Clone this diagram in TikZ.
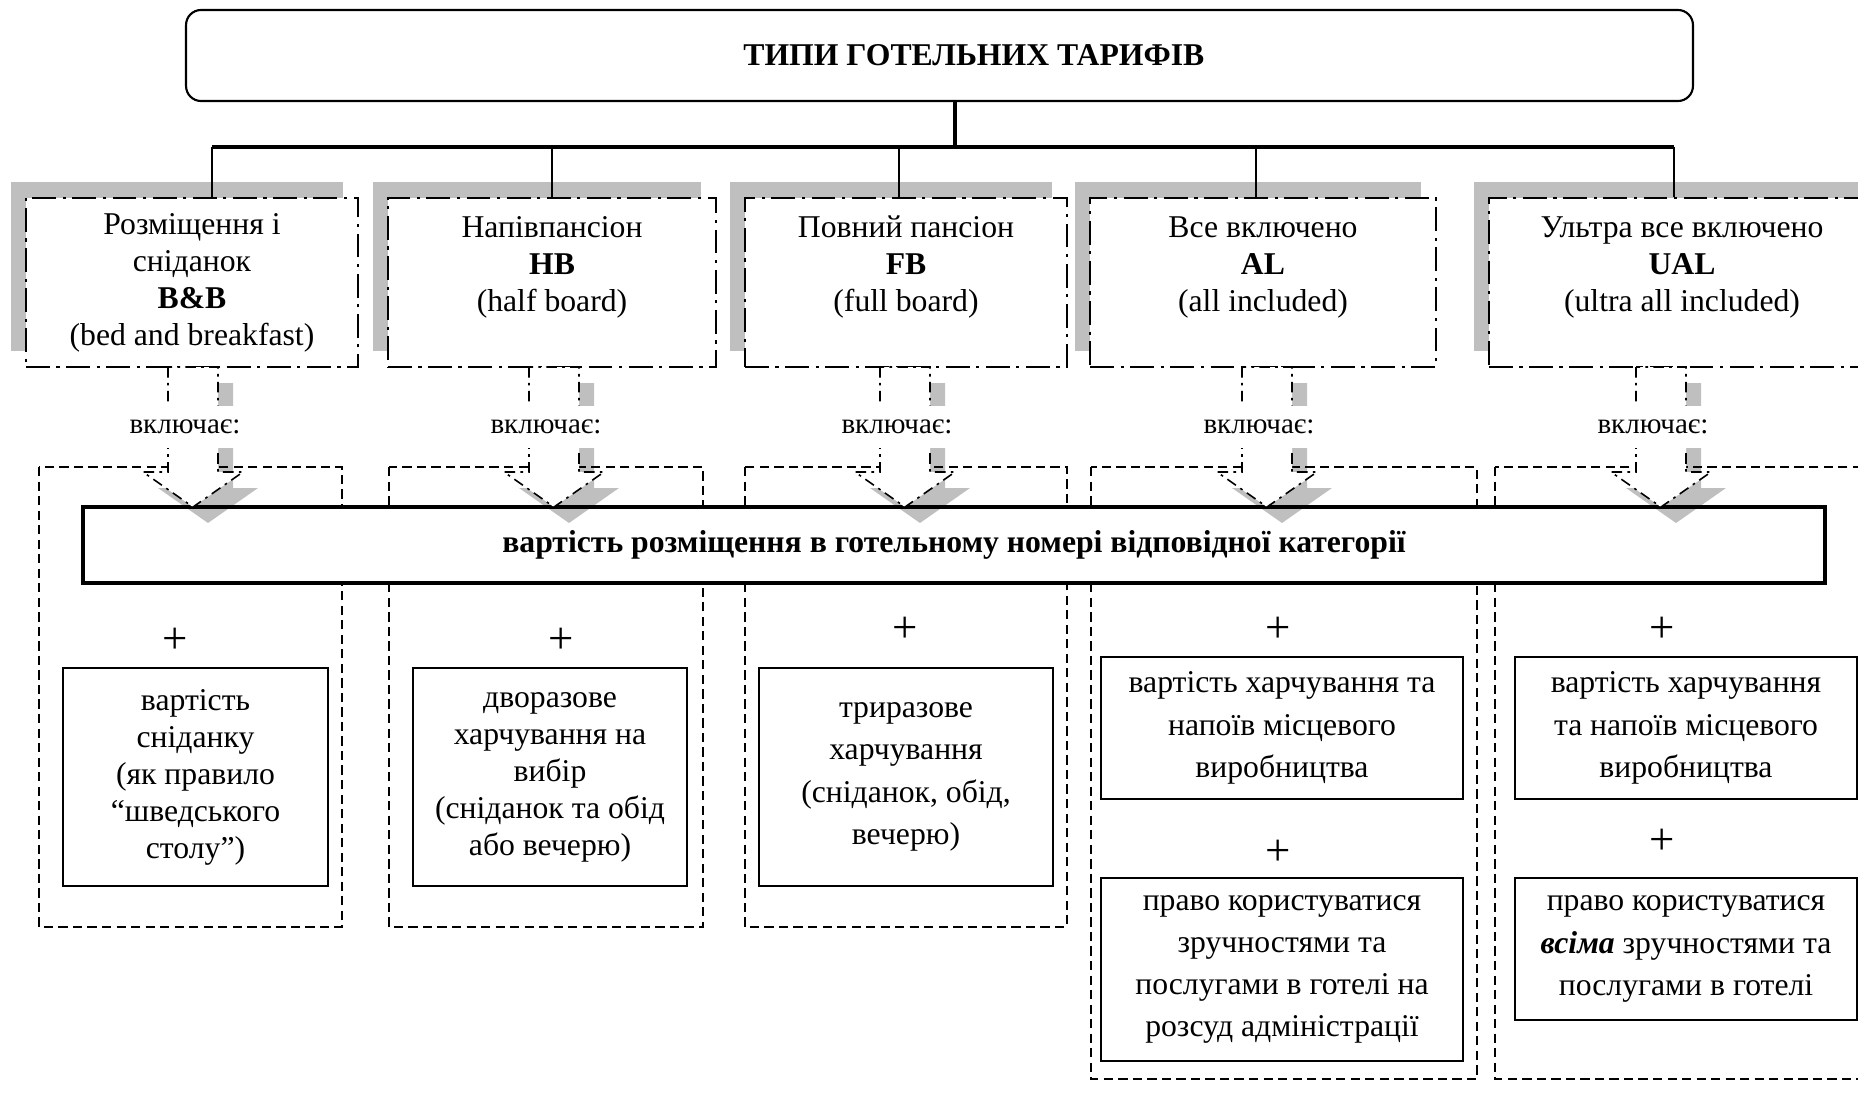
\documentclass[tikz,border=0pt]{standalone}
\usepackage{fontspec}
\setmainfont{Liberation Serif}
\usetikzlibrary{shadows}

\begin{document}
\begin{tikzpicture}[x=0.013307cm, y=-0.013307cm,
    txt/.style={font=\fontsize{12}{14}\selectfont, align=center},
    titlebox/.style={draw, line width=0.8pt, rounded corners=0.2cm, fill=white, minimum width=20.05cm, minimum height=1.211cm, font=\fontsize{12}{14}\selectfont\bfseries},
    typebox/.style={txt, draw, fill=white, line width=0.75pt, dash pattern=on 9pt off 2.5pt on 1.2pt off 2.5pt, minimum height=2.249cm, general shadow={fill=gray!50, shadow xshift=-0.2cm, shadow yshift=0.213cm}},
    groupbox/.style={draw, line width=0.8pt, dash pattern=on 3.5pt off 2pt},
    itembox/.style={txt, draw, line width=0.6pt, fill=white, inner sep=2pt},
    plus/.style={font=\fontsize{17}{19}\selectfont},
    incl/.style={font=\fontsize{11}{13}\selectfont, fill=white, inner sep=1pt, minimum height=16pt},
    arrowline/.style={line width=0.6pt, dash pattern=on 4pt off 2pt on 1pt off 2pt},
]
    \useasboundingbox (0,0) rectangle (1858,1094);
    % Title
    \node[titlebox] (title) at (939.5,55.5) {\hspace*{26pt}ТИПИ ГОТЕЛЬНИХ ТАРИФІВ};
    % Groups (dashed frames)
    \draw[groupbox] (39,467) rectangle (342,927);
    \draw[groupbox] (389,467) rectangle (703,927);
    \draw[groupbox] (745,467) rectangle (1067,927);
    \draw[groupbox] (1091,467) rectangle (1477,1079);
    \draw[groupbox] (1495,467) rectangle (1880,1079);
    % Tariff types
    \node[typebox, minimum width=4.418cm] (c1) at (192,282.5) {Розміщення і\\ сніданок\\ \textbf{B\&B}\\ (bed and breakfast)};
    \node[typebox, minimum width=4.365cm] (c2) at (552,282.5) {Напівпансіон\\ \textbf{HB}\\ (half board)\\ \mbox{}};
    \node[typebox, minimum width=4.285cm] (c3) at (906,282.5) {Повний пансіон\\ \textbf{FB}\\ (full board)\\ \mbox{}};
    \node[typebox, minimum width=4.6cm] (c4) at (1263,282.5) {Все включено\\ \textbf{AL}\\ (all included)\\ \mbox{}};
    \node[typebox, minimum width=5.137cm] (c5) at (1682,282.5) {Ультра все включено\\ \textbf{UAL}\\ (ultra all included)\\ \mbox{}};
    % Tree
    \coordinate (stem) at (955,147);
    \draw[line width=1.5pt] (title.south -| stem) -- (stem);
    \foreach \n/\dx in {1/212, 2/552, 3/899, 4/1256, 5/1674}
        \coordinate (d\n) at (\dx,147);
    \draw[line width=1.5pt] (d1) -- (d5);
    \foreach \n in {1,...,5}
        \draw[line width=0.5pt] (d\n) -- (d\n |- c\n.north);
    % Common part
    \node[draw, line width=1.5pt, fill=white, minimum width=23.18cm, minimum height=1.011cm, font=\fontsize{12}{14}\selectfont\bfseries] (bar) at (954,545) {вартість розміщення в готельному номері відповідної категорії};
    % Block arrows
    \foreach \n/\ax in {1/193, 2/554, 3/905, 4/1267, 5/1661} {
        \fill[black, opacity=0.25, shift={(15,16)}] (\ax-25,367) -- (\ax-25,472) -- (\ax-50,472) -- (\ax,507) -- (\ax+50,472) -- (\ax+25,472) -- (\ax+25,367) -- cycle;
        \filldraw[arrowline, fill=white] (\ax-25,367) -- (\ax-25,472) -- (\ax-50,472) -- (\ax,507) -- (\ax+50,472) -- (\ax+25,472) -- (\ax+25,367) -- cycle;
        \node[incl] (l\n) at (\ax-8,427) {включає:};
    }
    % Items
    \node[plus] (p1) at (175,641) {+};
    \node[itembox, minimum width=3.526cm, minimum height=2.901cm] (i1) at (195.5,777) {вартість\\ сніданку\\ (як правило\\ “шведського\\ столу”)};
    \node[plus] (p2) at (561,641) {+};
    \node[itembox, minimum width=3.646cm, minimum height=2.901cm] (i2) at (550,777) {дворазове\\ харчування на\\ вибір\\ (сніданок та обід\\ або вечерю)};
    \node[plus] (p3) at (905,630) {+};
    \node[itembox, minimum width=3.912cm, minimum height=2.901cm, font=\fontsize{12}{16}\selectfont] (i3) at (906,777) {триразове\\ харчування\\ (сніданок, обід,\\ вечерю)};
    \node[plus] (p4a) at (1278,630) {+};
    \node[itembox, minimum width=4.817cm, minimum height=1.890cm, font=\fontsize{12}{16}\selectfont] (i4a) at (1282,728) {вартість харчування та\\ напоїв місцевого\\ виробництва};
    \node[plus] (p4b) at (1278,853) {+};
    \node[itembox, minimum width=4.817cm, minimum height=2.435cm, font=\fontsize{12}{16}\selectfont] (i4b) at (1282,969.5) {право користуватися\\ зручностями та\\ послугами в готелі на\\ розсуд адміністрації};
    \node[plus] (p5a) at (1662,630) {+};
    \node[itembox, minimum width=4.551cm, minimum height=1.890cm, font=\fontsize{12}{16}\selectfont] (i5a) at (1686,728) {вартість харчування\\ та напоїв місцевого\\ виробництва};
    \node[plus] (p5b) at (1662,842) {+};
    \node[itembox, minimum width=4.551cm, minimum height=1.890cm, font=\fontsize{12}{16}\selectfont] (i5b) at (1686,949) {право користуватися\\ \textbf{\textit{всіма}} зручностями та\\ послугами в готелі};
\end{tikzpicture}
\end{document}
